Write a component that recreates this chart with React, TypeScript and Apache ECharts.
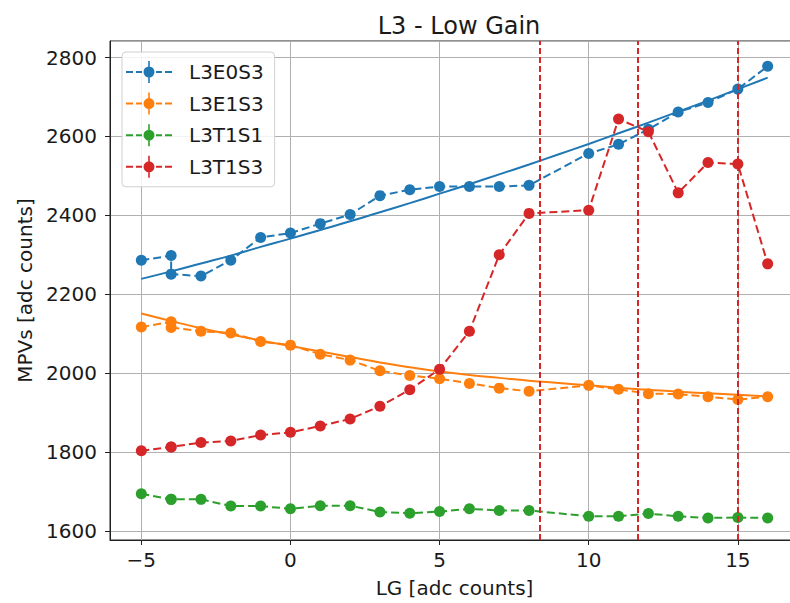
import React, { useEffect, useRef } from "react";
import * as echarts from "echarts";

// LG settings (a repeated point at -4)
const lgValues = [-5, -4, -4, -3, -2, -1, 0, 1, 2, 3, 4, 5, 6, 7, 8, 10, 11, 12, 13, 14, 15, 16];

// Most probable values per channel
const l3e0s3 = [2286, 2298, 2251, 2246, 2286, 2344, 2355, 2379, 2402, 2450, 2465, 2473, 2473, 2473, 2476, 2557, 2580, 2618, 2662, 2686, 2720, 2778];
const l3e1s3 = [2117, 2130, 2116, 2106, 2102, 2080, 2071, 2048, 2033, 2006, 1994, 1986, 1974, 1962, 1954, 1969, 1959, 1948, 1947, 1940, 1933, 1940];
const l3t1s1 = [1694, 1680, 1680, 1680, 1663, 1663, 1656, 1664, 1664, 1648, 1645, 1649, 1656, 1652, 1652, 1637, 1637, 1644, 1637, 1633, 1634, 1633];
const l3t1s3 = [1803, 1813, 1813, 1824, 1828, 1843, 1850, 1866, 1884, 1916, 1958, 2010, 2106, 2300, 2405, 2413, 2644, 2612, 2457, 2534, 2530, 2277];

// Fitted curves, sampled at integer LG
const fitLg = [-5, -4, -3, -2, -1, 0, 1, 2, 3, 4, 5, 6, 7, 8, 9, 10, 11, 12, 13, 14, 15, 16];
const l3e0s3Fit = [2239, 2258, 2278, 2298, 2320, 2341, 2363, 2385, 2408, 2431, 2455, 2479, 2504, 2529, 2555, 2581, 2608, 2635, 2663, 2691, 2720, 2749];
const l3e1s3Fit = [2151, 2132, 2114, 2098, 2083, 2069, 2055, 2041, 2027, 2015, 2004, 1995, 1988, 1981, 1975, 1969, 1963, 1958, 1953, 1949, 1945, 1941];

// Vertical reference positions
const markers = [8.37, 11.66, 15];

const seriesNames = ["L3E0S3", "L3E1S3", "L3T1S1", "L3T1S3"];
const colors = ["#1f77b4", "#ff7f0e", "#2ca02c", "#d62728"];

const FONT = "DejaVu Sans";

// errorbar-style legend glyph: dashes, a dot and a vertical bar
const legendIcon =
  "path://M0 10h7v2H0z M10 10h6v2h-6z M30 10h6v2h-6z M39 10h7v2h-7z " +
  "M17.5 11a5.5 5.5 0 1 1 11 0a5.5 5.5 0 1 1 -11 0z M22.2 0h1.6v22h-1.6z";

const zip = (xs: number[], ys: number[]) => xs.map((x, i) => [x, ys[i]]);

export default function App() {
  const ref = useRef<HTMLDivElement>(null);

  useEffect(() => {
    if (!ref.current) return;
    const chart = echarts.init(ref.current, undefined, { renderer: "svg" });

    const dataSets = [l3e0s3, l3e1s3, l3t1s1, l3t1s3];
    const pointSeries = dataSets.map((vals, i) => ({
      name: seriesNames[i],
      type: "line",
      data: zip(lgValues, vals),
      symbol: "circle",
      symbolSize: 11,
      showSymbol: true,
      itemStyle: { color: colors[i] },
      lineStyle: { color: colors[i], width: 2, type: [8, 4] },
      z: 3,
    }));

    const fitSeries = [
      { name: "L3E0S3 fit", vals: l3e0s3Fit, color: colors[0] },
      { name: "L3E1S3 fit", vals: l3e1s3Fit, color: colors[1] },
    ].map((f) => ({
      name: f.name,
      type: "line",
      data: zip(fitLg, f.vals),
      smooth: true,
      showSymbol: false,
      symbol: "none",
      lineStyle: { color: f.color, width: 2 },
      z: 3,
    }));

    const series: any[] = [
      pointSeries[0],
      fitSeries[0],
      pointSeries[1],
      fitSeries[1],
      pointSeries[2],
      pointSeries[3],
      {
        name: "markers",
        type: "line",
        data: [],
        markLine: {
          silent: true,
          symbol: "none",
          label: { show: false },
          lineStyle: { color: "#d62728", width: 2, type: [6, 3] },
          data: markers.map((m) => ({ xAxis: m })),
        },
        z: 4,
      },
    ];

    chart.setOption({
      animation: false,
      backgroundColor: "#ffffff",
      textStyle: { fontFamily: FONT },
      title: {
        text: "L3 - Low Gain",
        left: 454,
        textAlign: "center",
        top: 9,
        textStyle: { fontFamily: FONT, fontSize: 24, fontWeight: "normal", color: "#1a1a1a" },
      },
      legend: {
        left: 122,
        top: 52,
        orient: "vertical",
        padding: [9, 11, 9, 4],
        itemWidth: 46,
        itemHeight: 22,
        itemGap: 9.6,
        backgroundColor: "rgba(255,255,255,0.85)",
        borderColor: "#d0d0d0",
        borderWidth: 1,
        borderRadius: 4,
        textStyle: { fontFamily: FONT, fontSize: 20, color: "#1a1a1a", padding: [0, 0, 0, 12] },
        data: seriesNames.map((n, i) => ({ name: n, icon: legendIcon, itemStyle: { color: colors[i] } })),
      },
      grid: {
        left: 110,
        right: 0,
        top: 41,
        bottom: 60,
        show: true,
        borderColor: "#222",
        borderWidth: 1,
        backgroundColor: "transparent",
      },
      xAxis: {
        type: "value",
        min: -6.05,
        max: 17.05,
        splitNumber: 5,
        name: "LG [adc counts]",
        nameLocation: "middle",
        nameGap: 38,
        nameTextStyle: { fontFamily: FONT, fontSize: 20, color: "#1a1a1a" },
        axisLine: { show: true, onZero: false, lineStyle: { color: "#222", width: 1 } },
        axisTick: { show: true, length: 5, lineStyle: { color: "#222" } },
        axisLabel: {
          fontFamily: FONT,
          fontSize: 20,
          color: "#1a1a1a",
          margin: 10,
          showMinLabel: false,
          showMaxLabel: false,
          formatter: (v: number) => String(v).replace("-", "\u2212"),
        },
        splitLine: { show: true, lineStyle: { color: "#b0b0b0", width: 1 } },
      },
      yAxis: {
        type: "value",
        min: 1577,
        max: 2842,
        splitNumber: 6,
        name: "MPVs [adc counts]",
        nameLocation: "middle",
        nameGap: 66,
        nameTextStyle: { fontFamily: FONT, fontSize: 20, color: "#1a1a1a" },
        axisLine: { show: true, onZero: false, lineStyle: { color: "#222", width: 1 } },
        axisTick: { show: true, length: 5, lineStyle: { color: "#222" } },
        axisLabel: {
          fontFamily: FONT,
          fontSize: 20,
          color: "#1a1a1a",
          margin: 13,
          showMinLabel: false,
          showMaxLabel: false,
          formatter: (v: number) => String(v),
        },
        splitLine: { show: true, lineStyle: { color: "#b0b0b0", width: 1 } },
      },
      series,
    });

    return () => chart.dispose();
  }, []);

  // the plot frame runs a few pixels past the right edge, so the chart is
  // slightly wider than the visible window and clipped by it
  return (
    <div
      style={{
        position: "fixed",
        left: 0,
        top: 0,
        width: 790,
        height: 603,
        overflow: "hidden",
        background: "#fff",
      }}
    >
      <div ref={ref} style={{ width: 799, height: 603 }} />
    </div>
  );
}
